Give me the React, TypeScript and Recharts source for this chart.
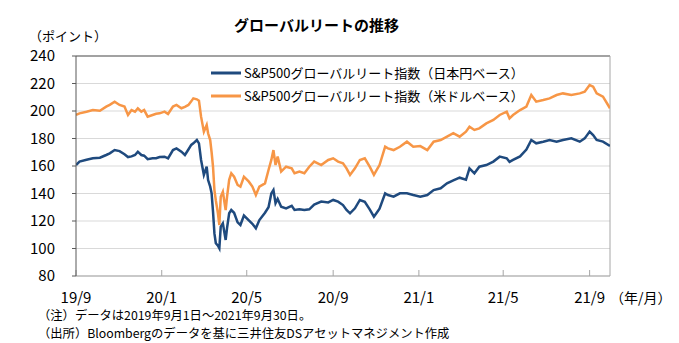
import React from "react";
import { LineChart, Line, XAxis, YAxis, CartesianGrid, Legend, ReferenceLine } from "recharts";

const FONT = '"Noto Sans CJK JP", "Noto Sans", sans-serif';

const dates = [
  "2019-09-01", "2019-09-06", "2019-09-16", "2019-09-25", "2019-10-05", "2019-10-14", "2019-10-19", "2019-10-26",
  "2019-11-02", "2019-11-09", "2019-11-14", "2019-11-19", "2019-11-24", "2019-11-28", "2019-12-03", "2019-12-07",
  "2019-12-12", "2019-12-19", "2019-12-24", "2019-12-29", "2020-01-05", "2020-01-10", "2020-01-17", "2020-01-22",
  "2020-01-29", "2020-02-03", "2020-02-08", "2020-02-12", "2020-02-15", "2020-02-20", "2020-02-23", "2020-02-26",
  "2020-03-01", "2020-03-05", "2020-03-07", "2020-03-10", "2020-03-12", "2020-03-14", "2020-03-16", "2020-03-18",
  "2020-03-21", "2020-03-23", "2020-03-25", "2020-03-28", "2020-04-01", "2020-04-03", "2020-04-06", "2020-04-09",
  "2020-04-13", "2020-04-18", "2020-04-22", "2020-04-27", "2020-05-04", "2020-05-09", "2020-05-14", "2020-05-19",
  "2020-05-27", "2020-06-01", "2020-06-05", "2020-06-08", "2020-06-11", "2020-06-14", "2020-06-19", "2020-06-26",
  "2020-07-04", "2020-07-08", "2020-07-15", "2020-07-22", "2020-07-29", "2020-08-05", "2020-08-15", "2020-08-25",
  "2020-09-01", "2020-09-08", "2020-09-15", "2020-09-20", "2020-09-25", "2020-10-02", "2020-10-09", "2020-10-16",
  "2020-10-23", "2020-10-29", "2020-11-02", "2020-11-06", "2020-11-14", "2020-11-18", "2020-11-26", "2020-12-05",
  "2020-12-15", "2020-12-24", "2021-01-03", "2021-01-13", "2021-01-22", "2021-02-01", "2021-02-10", "2021-02-19",
  "2021-02-28", "2021-03-09", "2021-03-14", "2021-03-21", "2021-03-28", "2021-04-07", "2021-04-17", "2021-04-26",
  "2021-05-06", "2021-05-10", "2021-05-15", "2021-05-25", "2021-06-03", "2021-06-10", "2021-06-17", "2021-06-27",
  "2021-07-06", "2021-07-16", "2021-07-25", "2021-08-06", "2021-08-18", "2021-08-25", "2021-09-01", "2021-09-06",
  "2021-09-11", "2021-09-20", "2021-09-30",
];

// 日本円ベース
const jpyValues = [
  160.7, 163.2, 164.5, 165.6, 166.0, 168.0, 169.2, 171.6,
  170.8, 168.5, 166.5, 167.0, 168.0, 170.4, 168.0, 167.5,
  165.0, 165.6, 165.6, 166.5, 166.8, 165.6, 171.6, 172.8,
  170.4, 168.0, 172.0, 175.3, 176.5, 178.9, 176.5, 164.4,
  153.5, 159.5, 149.8, 145.0, 140.1, 126.8, 111.0, 103.8,
  102.0, 100.1, 115.9, 118.3, 106.2, 115.0, 125.6, 128.0,
  126.0, 119.0, 117.1, 124.0, 120.5, 118.0, 114.7, 120.7,
  126.0, 130.0, 140.0, 142.5, 132.9, 136.0, 130.4, 129.2,
  131.0, 128.0, 128.5, 128.0, 128.5, 132.0, 134.1, 133.5,
  135.3, 134.1, 131.6, 128.0, 125.6, 129.2, 135.3, 134.0,
  128.5, 123.1, 126.0, 129.0, 140.1, 138.9, 137.7, 140.1,
  140.1, 138.9, 137.7, 138.9, 142.5, 143.8, 147.4, 149.5,
  151.5, 150.0, 158.3, 154.7, 159.5, 160.7, 163.2, 166.8,
  165.6, 163.0, 164.5, 167.0, 172.0, 178.9, 176.5, 177.7,
  178.9, 177.7, 178.9, 180.1, 177.7, 180.1, 185.0, 182.5,
  178.9, 177.7, 174.5,
];

// 米ドルベース
const usdValues = [
  197.1, 198.3, 199.5, 200.7, 200.2, 203.2, 204.5, 206.8,
  204.4, 203.2, 197.1, 200.7, 199.5, 202.0, 199.5, 200.7,
  195.9, 197.1, 198.0, 198.3, 199.5, 197.8, 203.2, 204.4,
  202.0, 203.0, 204.4, 207.0, 209.2, 208.5, 207.5, 195.9,
  185.0, 189.8, 183.8, 178.9, 170.0, 159.5, 142.5, 135.0,
  125.6, 117.1, 137.7, 141.3, 128.0, 137.7, 150.0, 154.7,
  152.2, 146.2, 145.0, 152.2, 148.6, 145.0, 138.9, 145.0,
  147.4, 157.1, 164.4, 171.6, 160.7, 166.8, 155.9, 159.5,
  158.3, 154.7, 155.9, 154.7, 159.5, 163.2, 160.7, 164.4,
  165.6, 163.2, 162.0, 158.3, 153.5, 158.3, 164.4, 165.6,
  159.5, 153.5, 157.1, 160.7, 174.0, 172.8, 171.6, 174.0,
  177.7, 174.0, 174.5, 171.6, 177.7, 178.9, 181.3, 183.8,
  181.3, 185.0, 188.6, 186.2, 187.4, 191.0, 193.5, 197.1,
  199.5, 194.7, 197.1, 200.7, 203.2, 211.6, 206.8, 208.0,
  209.2, 211.6, 212.8, 211.6, 212.8, 214.0, 218.9, 217.7,
  212.8, 210.4, 202.0,
];

const seriesNames = [
  "S&P500グローバルリート指数（日本円ベース）",
  "S&P500グローバルリート指数（米ドルベース）",
];

const xTickDates = ["2019-09-01", "2020-01-01", "2020-05-01", "2020-09-01", "2021-01-01", "2021-05-01", "2021-09-01"];
const xTickLabels = ["19/9", "20/1", "20/5", "20/9", "21/1", "21/5", "21/9"];
const yTicks = [80, 100, 120, 140, 160, 180, 200, 220, 240];

const startT = Date.parse("2019-09-01");
const endT = Date.parse("2021-09-30");
const xTicks = xTickDates.map((d) => Date.parse(d));

const data = dates.map((d, i) => ({ t: Date.parse(d), jpy: jpyValues[i], usd: usdValues[i] }));

const renderLegend = (props: any) => {
  const { payload } = props;
  return (
    <div style={{ fontFamily: FONT, fontSize: 13, color: "#000" }}>
      {(payload || []).map((entry: any, i: number) => (
        <div key={i} style={{ display: "flex", alignItems: "center", height: 23 }}>
          <svg width={30} height={6} style={{ marginRight: 3 }}>
            <line x1={0} y1={3} x2={30} y2={3} stroke={entry.color} strokeWidth={3} />
          </svg>
          <span style={{ whiteSpace: "nowrap" }}>{entry.value}</span>
        </div>
      ))}
    </div>
  );
};

export default function App() {
  return (
    <div style={{ position: "absolute", left: 0, top: 0, width: 679, height: 343, background: "#fff", fontFamily: FONT }}>
      <div style={{ position: "absolute", left: 0, width: 633, top: 13, textAlign: "center", fontSize: 15, fontWeight: 700, lineHeight: "24px" }}>
        グローバルリートの推移
      </div>
      <div style={{ position: "absolute", left: 29, top: 28, fontSize: 13, lineHeight: "15px" }}>（ポイント）</div>
      <LineChart width={679} height={343} data={data} margin={{ top: 56, right: 69, bottom: 37, left: 0 }}>
        <CartesianGrid horizontal vertical={false} stroke="#D9D9D9" />
        <XAxis
          dataKey="t"
          type="number"
          domain={[startT, endT]}
          ticks={xTicks}
          tickFormatter={(v: number) => xTickLabels[xTicks.indexOf(v)] ?? ""}
          height={30}
          axisLine={{ stroke: "#A6A6A6" }}
          tickLine={{ stroke: "#A6A6A6" }}
          tickSize={-6}
          tickMargin={22}
          tick={{ fill: "#000", fontSize: 15, fontFamily: FONT }}
          interval={0}
          allowDataOverflow
        />
        <YAxis
          domain={[80, 240]}
          ticks={yTicks}
          width={76}
          axisLine={{ stroke: "#595959" }}
          tickLine={{ stroke: "#595959" }}
          tickSize={4}
          tickMargin={17}
          tick={{ fill: "#000", fontSize: 15, fontFamily: FONT }}
          interval={0}
        />
        <ReferenceLine y={240} stroke="#595959" />
        <ReferenceLine x={endT} stroke="#A6A6A6" />
        <Legend
          content={renderLegend}
          layout="vertical"
          verticalAlign="middle"
          align="center"
          wrapperStyle={{ top: 61, left: 211, width: "auto" }}
        />
        <Line type="linear" dataKey="jpy" name={seriesNames[0]} stroke="#1F4A7E" strokeWidth={2.5} dot={false} isAnimationActive={false} />
        <Line type="linear" dataKey="usd" name={seriesNames[1]} stroke="#F79646" strokeWidth={2.5} dot={false} isAnimationActive={false} />
      </LineChart>
      <div style={{ position: "absolute", left: 610, top: 287, fontSize: 14, lineHeight: "20px" }}>（年/月）</div>
      <div style={{ position: "absolute", left: 38, top: 309, fontSize: 12.3, lineHeight: "13px", whiteSpace: "nowrap" }}>
        （注）データは2019年9月1日～2021年9月30日。
      </div>
      <div style={{ position: "absolute", left: 38, top: 327, fontSize: 12.3, lineHeight: "13px", whiteSpace: "nowrap" }}>
        （出所）Bloombergのデータを基に三井住友DSアセットマネジメント作成
      </div>
    </div>
  );
}
